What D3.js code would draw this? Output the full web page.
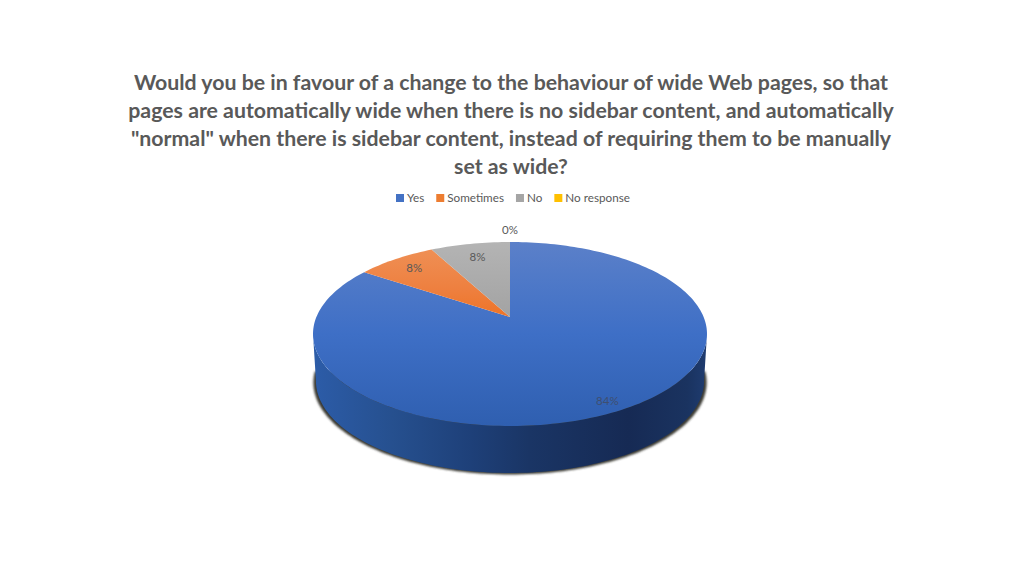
<!DOCTYPE html>
<html><head><meta charset="utf-8">
<script src="https://cdn.jsdelivr.net/npm/d3@7/dist/d3.min.js"></script>
<style>html,body{margin:0;background:#fff}svg{display:block}text{font-family:Lato,sans-serif}</style>
</head><body><svg id="c" width="1024" height="576"></svg>
<script>
const titleLines = [
  'Would you be in favour of a change to the behaviour of wide Web pages, so that',
  'pages are automatically wide when there is no sidebar content, and automatically',
  '"normal" when there is sidebar content, instead of requiring them to be manually',
  'set as wide?'];
const categories = ['Yes','Sometimes','No','No response'];
const values = [84.4,7.8,7.8,0];
const colors = ['#4472C4','#ED7D31','#A5A5A5','#FFC000'];
const labelRadius = [0.91,0.82,0.79,1.2];

const svg = d3.select('#c');
const defs = svg.append('defs');
const cx=510, apexY=317, topY=242, botY=426, rxMax=197, depth=47;
const pc=(topY+botY-2*apexY)/(botY-topY);
const B=topY*(1+pc)-apexY;
const k=rxMax*Math.sqrt(1-pc*pc);
function proj(a,r){
  const X=r*Math.sin(a),Y=r*Math.cos(a),d=1+pc*Y;
  return [cx+k*X/d,(apexY+B*Y)/d];
}
const pie=d3.pie().sort(null).startAngle(0).endAngle(2*Math.PI).value(d=>d);
const arcs=pie(values);
const line=d3.line();
function sampled(a0,a1,n,fn){return d3.range(n+1).map(i=>fn(a0+(a1-a0)*i/n));}

function vGrad(id,stops){
  const g=defs.append('linearGradient').attr('id',id).attr('gradientUnits','userSpaceOnUse')
    .attr('x1',0).attr('x2',0).attr('y1',topY).attr('y2',botY);
  stops.forEach(s=>g.append('stop').attr('offset',s[0]).attr('stop-color',s[1]));
}
vGrad('g0',[[0,'#5b80c9'],[0.5,'#3e6fc6'],[1,'#2f5fb0']]);
vGrad('g1',[[0,'#ef9258'],[0.25,'#ee8040'],[0.45,'#ed7020']]);
vGrad('g2',[[0,'#b4b4b4'],[0.4,'#a3a3a3']]);
vGrad('g3',[[0,'#ffc000'],[1,'#ffc000']]);
const wg=defs.append('linearGradient').attr('id','wall').attr('gradientUnits','userSpaceOnUse')
  .attr('x1',cx-rxMax).attr('x2',cx+rxMax).attr('y1',0).attr('y2',0);
[[0,'#2c5ca8'],[0.2,'#26508f'],[0.4,'#1e4079'],[0.55,'#1a3565'],[0.8,'#162a54'],[0.95,'#1a3360'],[1,'#1f3c70']]
  .forEach(s=>wg.append('stop').attr('offset',s[0]).attr('stop-color',s[1]));
defs.append('filter').attr('id','blur').attr('x','-10%').attr('y','-10%').attr('width','120%').attr('height','120%')
  .append('feGaussianBlur').attr('stdDeviation',1.3);

const startA=Math.PI/2+Math.asin(pc);
const endA=2*Math.PI-startA;
const lower=(a,sx=0.985,dy=0)=>{const p=proj(a,1);return [cx+(p[0]-cx)*sx,p[1]+depth+dy];};
const topRing=sampled(startA,endA,120,a=>proj(a,1));
const botRing=sampled(endA,startA,120,a=>lower(a));
svg.append('path').attr('d',line(sampled(startA-0.12,endA+0.12,120,a=>lower(a,0.998,1.5)))+'Z')
  .attr('fill','#3a3a34').attr('filter','url(#blur)');
svg.append('path').attr('d',line(topRing.concat(botRing))+'Z').attr('fill','url(#wall)');

svg.append('g').selectAll('path').data(arcs).join('path')
  .attr('d',d=>line([proj(0,0)].concat(sampled(d.startAngle,d.endAngle,Math.max(2,Math.ceil((d.endAngle-d.startAngle)*40)),a=>proj(a,1))))+'Z')
  .attr('fill',(d,i)=>`url(#g${i})`);

svg.append('g').selectAll('text').data(arcs).join('text')
  .attr('x',(d,i)=>proj((d.startAngle+d.endAngle)/2,labelRadius[i])[0])
  .attr('y',(d,i)=>proj((d.startAngle+d.endAngle)/2,labelRadius[i])[1]+4)
  .attr('text-anchor','middle').attr('font-size',11.5)
  .attr('fill',(d,i)=>i===0?'#3f4f70':'#595959')
  .text(d=>Math.round(d.value)+'%');

svg.append('g').selectAll('text').data(titleLines).join('text')
  .attr('x',511).attr('y',(d,i)=>89.5+28*i).attr('text-anchor','middle')
  .attr('font-size',21.3).attr('font-weight',700).attr('fill','#595959').text(d=>d);

const leg=svg.append('g');
let lx=396;
categories.forEach((t,i)=>{
  leg.append('rect').attr('x',lx).attr('y',194).attr('width',8).attr('height',8).attr('fill',colors[i]);
  const tx=leg.append('text').attr('x',lx+11).attr('y',202).attr('font-size',11.7).attr('fill','#595959').text(t);
  lx+=11+tx.node().getComputedTextLength()+12;
});
</script></body></html>
